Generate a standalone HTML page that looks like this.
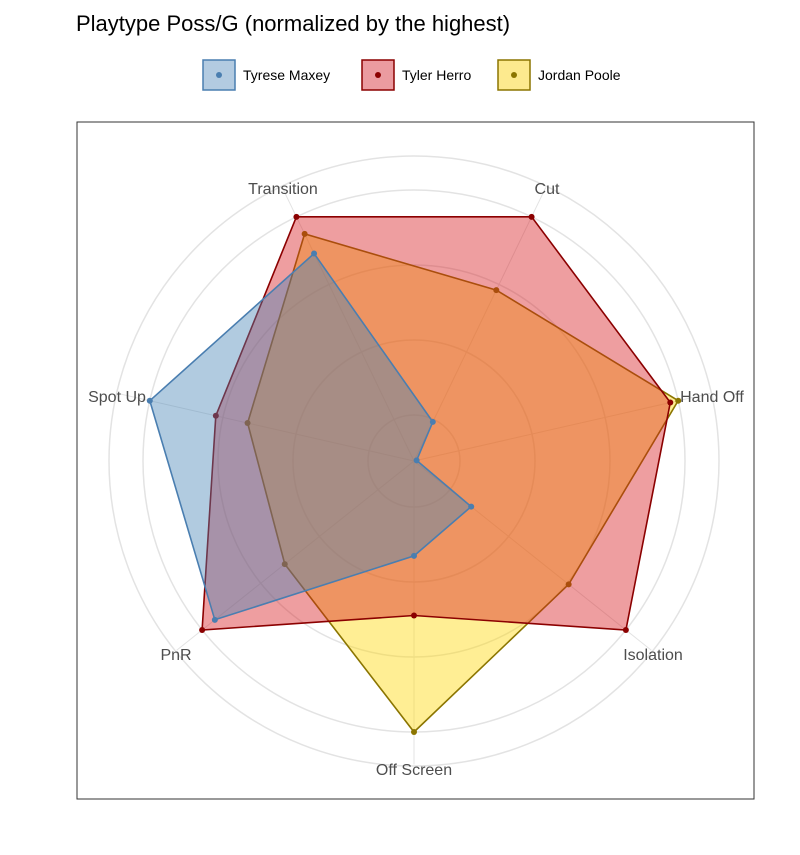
<!DOCTYPE html>
<html><head><meta charset="utf-8"><style>
body{margin:0;background:#fff;font-family:"Liberation Sans",sans-serif;}
</style></head><body>
<svg width="800" height="850" xmlns="http://www.w3.org/2000/svg">
<rect width="800" height="850" fill="#fff"/>
<text x="76" y="31" font-size="22" fill="#000">Playtype Poss/G (normalized by the highest)</text>
<g id="legend"></g>
<rect x="77" y="122" width="677" height="677" fill="none" stroke="#333" stroke-width="1"/>
<g id="grid"></g><g id="series"></g><g id="labels"></g>
</svg>
<script>
const categories=["Off Screen","Isolation","Hand Off","Cut","Transition","Spot Up","PnR"];
const players=["Tyrese Maxey","Tyler Herro","Jordan Poole"];
const maxeyValues=[0.35,0.27,0.01,0.16,0.85,1.0,0.94];
const herroValues=[0.57,1.0,0.97,1.0,1.0,0.75,1.0];
const pooleValues=[1.0,0.73,1.0,0.70,0.93,0.63,0.61];
const NS="http://www.w3.org/2000/svg";
const cx=414,cy=461,R=271;
function ang(i){return (-90+i*360/categories.length)*Math.PI/180;}
function px(i,v){return cx+R*v*Math.cos(ang(i));}
function py(i,v){return cy-R*v*Math.sin(ang(i));}
function mk(t,a,p){const e=document.createElementNS(NS,t);for(const k in a)e.setAttribute(k,a[k]);p.appendChild(e);return e;}
const grid=document.getElementById('grid');
[46,121,196,271,305].forEach(r=>{const c=mk('circle',{cx:cx,cy:cy,r:r,fill:'none',stroke:'#e3e3e3','stroke-width':1.5},grid);

});
categories.forEach((c,i)=>{const l=mk('line',{x1:cx,y1:cy,x2:px(i,1.12),y2:py(i,1.12),stroke:'#e3e3e3','stroke-width':1},grid);

});
const styles=[{vals:pooleValues,fill:'#ffd700',stroke:'#8b7500',pt:'#8b7500',name:'poole'},
{vals:herroValues,fill:'#d7191c',stroke:'#8b0000',pt:'#8b0000',name:'herro'},
{vals:maxeyValues,fill:'#4682b4',stroke:'#4a7eb0',pt:'#4a7eb0',name:'maxey'}];
const sg=document.getElementById('series');
styles.forEach(s=>{
const pts=s.vals.map((v,i)=>px(i,v).toFixed(1)+','+py(i,v).toFixed(1)).join(' ');
const p=mk('polygon',{points:pts,fill:s.fill,'fill-opacity':0.42,stroke:s.stroke,'stroke-width':1.6},sg);


s.vals.forEach((v,i)=>{const c=mk('circle',{cx:px(i,v),cy:py(i,v),r:3,fill:s.pt},sg);

});
});
const lg=document.getElementById('labels');
const lpos=[[414,775,'middle'],[653,660,'middle'],[712,402,'middle'],[547,194,'middle'],[283,194,'middle'],[117,402,'middle'],[176,660,'middle']];
categories.forEach((c,i)=>{const t=mk('text',{x:lpos[i][0],y:lpos[i][1],'text-anchor':lpos[i][2],'font-size':16,fill:'#4d4d4d'},lg);
t.textContent=c;

});
const leg=document.getElementById('legend');
const lx=[203,362,498],lfill=['#b3cbe1','#eb9ba0','#fdea8e'],lst=['#4a7eb0','#8b0000','#8b7500'];
players.forEach((p,i)=>{
const r=mk('rect',{x:lx[i],y:60,width:32,height:30,fill:lfill[i],stroke:lst[i],'stroke-width':1.5},leg);


mk('circle',{cx:lx[i]+16,cy:75,r:3,fill:lst[i]},leg);
const t=mk('text',{x:lx[i]+40,y:80,'font-size':14,fill:'#000'},leg);
t.textContent=p;


});
</script>
</body></html>
